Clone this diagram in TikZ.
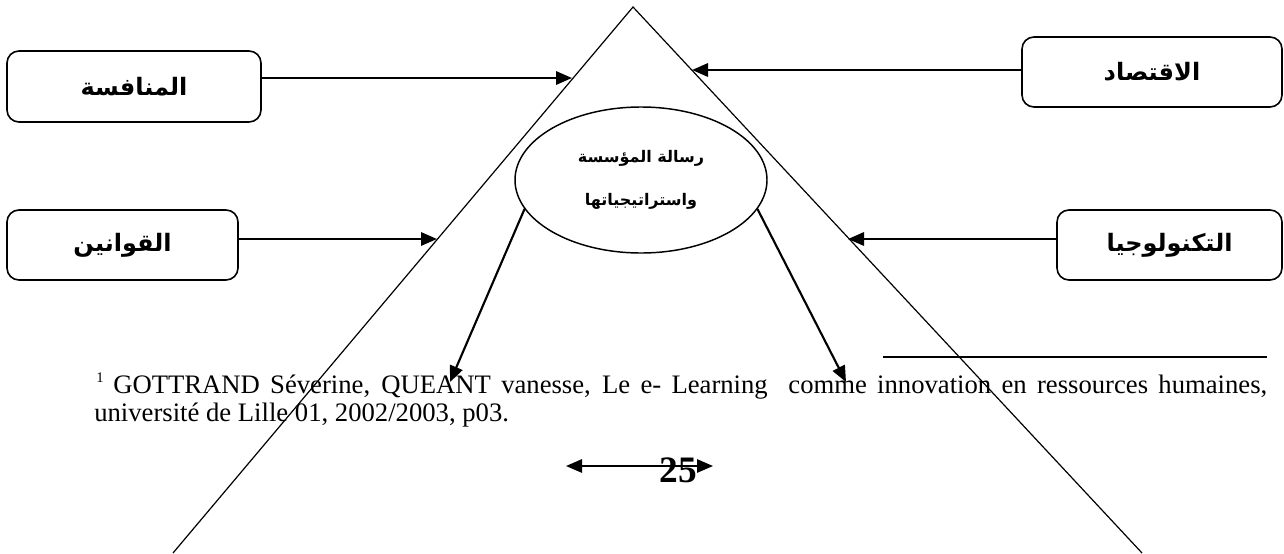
\documentclass[tikz,border=0pt]{standalone}
\usepackage{fontspec}
\setmainfont{Liberation Serif}
\newfontfamily\arabicfont[Script=Arabic]{DejaVu Sans}
\TeXXeTstate=1
\usetikzlibrary{shapes.geometric,arrows.meta}

\begin{document}
\begin{tikzpicture}[x=0.75pt,y=-0.75pt,
  factor/.style={draw,line width=1.2pt,rounded corners=9pt,inner sep=0pt,
    font=\arabicfont\bfseries\fontsize{18}{20}\selectfont},
  push/.style={line width=1.6pt,-{Triangle[length=12pt,width=10pt]}},
  side/.style={line width=0.9pt},
  note/.style={anchor=base west,inner sep=0pt,font=\fontsize{20}{23}\selectfont}]
\useasboundingbox (0,0) rectangle (1284,553);

% the pyramid
\coordinate (apex) at (633,7);
\coordinate (bl) at (173,553);
\coordinate (br) at (1142,553);
\draw[side] (bl) -- (apex) -- (br);

% environment factors
\node[factor,minimum width=190.5pt,minimum height=53.25pt] (comp) at (134,86.5) {\beginR المنافسة\endR};
\node[factor,minimum width=195pt,minimum height=52.5pt] (econ) at (1152,72) {\beginR الاقتصاد\endR};
\node[factor,minimum width=173.25pt,minimum height=52.5pt] (laws) at (122.5,245) {\beginR القوانين\endR};
\node[factor,minimum width=168.75pt,minimum height=52.5pt] (tech) at (1169.5,245) {\beginR التكنولوجيا\endR};

% points where the factors meet the pyramid
\coordinate (hitA) at (572,78);
\coordinate (hitB) at (692,70);
\coordinate (hitC) at (437,239);
\coordinate (hitD) at (848,239);
\draw[push] (comp.east |- hitA) -- (hitA);
\draw[push] (econ.west |- hitB) -- (hitB);
\draw[push] (laws.east |- hitC) -- (hitC);
\draw[push] (tech.west |- hitD) -- (hitD);

% mission and strategies
\node[ellipse,draw,line width=1.1pt,minimum width=189pt,minimum height=109.5pt,inner sep=0pt,
  align=center,font=\arabicfont\bfseries\fontsize{12}{32}\selectfont] (mission) at (641,180)
  {\beginR رسالة المؤسسة\endR\\\beginR واستراتيجياتها\endR};
\coordinate (tipL) at (450,382);
\coordinate (tipR) at (846,382);
\draw[push] (mission.194) -- (tipL);
\draw[push] (mission.346) -- (tipR);

% footnote
\coordinate (fnl) at (883,357);
\coordinate (fnr) at (1267,357);
\draw[line width=1pt] (fnl) -- (fnr);
\node[anchor=base west,inner sep=0pt,font=\fontsize{11}{13}\selectfont] (fnmark) at (96,382) {1};
\node[note] (fn1) at (113,393) {\makebox[865.5pt][s]{GOTTRAND Séverine, QUEANT vanesse, Le e- Learning\ \ comme innovation en ressources humaines,}};
\node[note] (fn2) at (94,421) {université de Lille 01, 2002/2003, p03.};

% page number
\coordinate (pgl) at (566,466);
\coordinate (pgr) at (713,466);
\draw[line width=1.4pt,{Triangle[length=12pt,width=10pt]}-{Triangle[length=12pt,width=10pt]}] (pgl) -- (pgr);
\node[inner sep=0pt,font=\bfseries\fontsize{28}{30}\selectfont] (pg) at (678,470) {25};
\end{tikzpicture}
\end{document}
